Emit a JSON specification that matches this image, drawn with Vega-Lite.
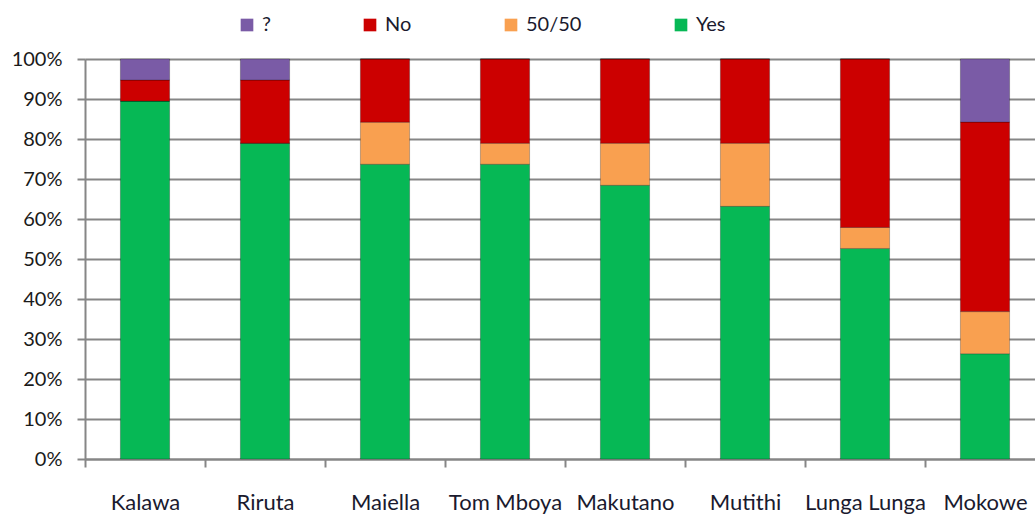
{
  "$schema": "https://vega.github.io/schema/vega-lite/v6.json",
  "autosize": {"type": "none"},
  "padding": {"left": 85, "top": 59, "right": 0, "bottom": 59},
  "width": 950,
  "height": 400,
  "background": "white",
  "data": {
    "values": [
      {"site": "Kalawa", "answer": "Yes", "pct": 0.8947, "ord": 1},
      {"site": "Kalawa", "answer": "50/50", "pct": 0.0, "ord": 2},
      {"site": "Kalawa", "answer": "No", "pct": 0.0526, "ord": 3},
      {"site": "Kalawa", "answer": "?", "pct": 0.0527, "ord": 4},
      {"site": "Riruta", "answer": "Yes", "pct": 0.7895, "ord": 1},
      {"site": "Riruta", "answer": "50/50", "pct": 0.0, "ord": 2},
      {"site": "Riruta", "answer": "No", "pct": 0.1579, "ord": 3},
      {"site": "Riruta", "answer": "?", "pct": 0.0526, "ord": 4},
      {"site": "Maiella", "answer": "Yes", "pct": 0.7368, "ord": 1},
      {"site": "Maiella", "answer": "50/50", "pct": 0.1053, "ord": 2},
      {"site": "Maiella", "answer": "No", "pct": 0.1579, "ord": 3},
      {"site": "Maiella", "answer": "?", "pct": 0.0, "ord": 4},
      {"site": "Tom Mboya", "answer": "Yes", "pct": 0.7368, "ord": 1},
      {"site": "Tom Mboya", "answer": "50/50", "pct": 0.0526, "ord": 2},
      {"site": "Tom Mboya", "answer": "No", "pct": 0.2106, "ord": 3},
      {"site": "Tom Mboya", "answer": "?", "pct": 0.0, "ord": 4},
      {"site": "Makutano", "answer": "Yes", "pct": 0.6842, "ord": 1},
      {"site": "Makutano", "answer": "50/50", "pct": 0.1053, "ord": 2},
      {"site": "Makutano", "answer": "No", "pct": 0.2105, "ord": 3},
      {"site": "Makutano", "answer": "?", "pct": 0.0, "ord": 4},
      {"site": "Mutithi", "answer": "Yes", "pct": 0.6316, "ord": 1},
      {"site": "Mutithi", "answer": "50/50", "pct": 0.1579, "ord": 2},
      {"site": "Mutithi", "answer": "No", "pct": 0.2105, "ord": 3},
      {"site": "Mutithi", "answer": "?", "pct": 0.0, "ord": 4},
      {"site": "Lunga Lunga", "answer": "Yes", "pct": 0.5263, "ord": 1},
      {"site": "Lunga Lunga", "answer": "50/50", "pct": 0.0526, "ord": 2},
      {"site": "Lunga Lunga", "answer": "No", "pct": 0.4211, "ord": 3},
      {"site": "Lunga Lunga", "answer": "?", "pct": 0.0, "ord": 4},
      {"site": "Mokowe", "answer": "Yes", "pct": 0.2632, "ord": 1},
      {"site": "Mokowe", "answer": "50/50", "pct": 0.1053, "ord": 2},
      {"site": "Mokowe", "answer": "No", "pct": 0.4737, "ord": 3},
      {"site": "Mokowe", "answer": "?", "pct": 0.1578, "ord": 4}
    ]
  },
  "mark": {"type": "bar", "width": {"band": 0.41}, "stroke": "#00000040", "strokeWidth": 1},
  "encoding": {
    "x": {
      "field": "site",
      "type": "nominal",
      "sort": ["Kalawa", "Riruta", "Maiella", "Tom Mboya", "Makutano", "Mutithi", "Lunga Lunga", "Mokowe"],
      "scale": {"paddingInner": 0, "paddingOuter": 0, "range": [0, 960]},
      "axis": {
        "title": null,
        "labelAngle": 0,
        "labelFont": "Lato",
        "labelFontSize": 22,
        "labelColor": "#1a1a2e",
        "labelPadding": 25,
        "tickBand": "extent",
        "tickSize": 8,
        "tickColor": "#868686",
        "tickWidth": 2,
        "domainColor": "#868686",
        "domainWidth": 2,
        "grid": false
      }
    },
    "y": {
      "field": "pct",
      "type": "quantitative",
      "stack": "zero",
      "scale": {"domain": [0, 1], "nice": false},
      "axis": {
        "title": null,
        "format": ".0%",
        "values": [0, 0.1, 0.2, 0.3, 0.4, 0.5, 0.6, 0.7, 0.8, 0.9, 1],
        "labelFont": "Lato",
        "labelFontSize": 20,
        "labelColor": "#1a1a1a",
        "labelPadding": 15,
        "tickSize": 8,
        "tickColor": "#868686",
        "tickWidth": 2,
        "gridColor": "#868686",
        "gridWidth": 2,
        "domainColor": "#868686",
        "domainWidth": 2
      }
    },
    "color": {
      "field": "answer",
      "type": "nominal",
      "scale": {
        "domain": ["?", "No", "50/50", "Yes"],
        "range": ["#7A5BA6", "#CC0000", "#F9A050", "#06B855"]
      },
      "legend": {
        "title": null,
        "orient": "none",
        "direction": "horizontal",
        "columns": 4,
        "legendX": 152,
        "legendY": -44,
        "symbolType": "square",
        "symbolSize": 160,
        "symbolStrokeWidth": 0,
        "labelFont": "Lato",
        "labelFontSize": 20,
        "labelColor": "#1a1a2e",
        "labelOffset": 5,
        "columnPadding": 89
      }
    },
    "order": {"field": "ord", "type": "quantitative"}
  }
}
